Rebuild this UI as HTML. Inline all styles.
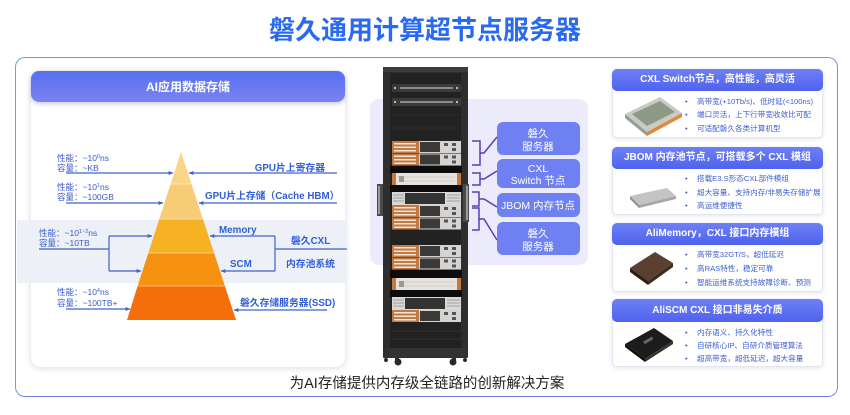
<!DOCTYPE html>
<html><head><meta charset="utf-8">
<style>
*{margin:0;padding:0;box-sizing:border-box}
body{width:850px;height:415px;background:#fff;position:relative;overflow:hidden;font-family:"Liberation Sans","Noto Sans CJK SC",sans-serif}
.a{position:absolute}
.title{left:0;top:12px;width:850px;text-align:center;font-size:26px;line-height:36px;font-weight:bold;color:#2a6af2;letter-spacing:0px}
.frame{left:15px;top:57px;width:823px;height:340px;border:1.5px solid #7d8ce8;border-radius:10px;border-bottom-color:#6f86e6;border-left-color:#6a9ae8}
.lp{left:31px;top:71px;width:314px;height:296px;background:#fff;border-radius:9px;box-shadow:0 1px 6px rgba(20,30,80,.18)}
.lph{left:31px;top:71px;width:314px;height:31px;border-radius:8px;background:linear-gradient(180deg,#5670f3,#7c82f2);box-shadow:0 2px 4px rgba(60,60,160,.25)}
.pbg{left:370px;top:99px;width:218px;height:166px;background:#ecebfc;border-radius:9px}
.card{left:612px;width:211px;background:#fff;border:1px solid #e3e6f0;border-radius:5px;box-shadow:0 1px 4px rgba(20,30,80,.12)}
.ch{left:612px;width:211px;height:22px;border-radius:5px;background:linear-gradient(180deg,#6e80f6,#4f62ee);color:#fff;font-weight:bold;font-size:10px;line-height:22px;text-align:center}
</style></head><body>
<div class="a title">磐久通用计算超节点服务器</div>
<div class="a frame"></div>
<div class="a lp"></div>
<div class="a lph"></div>
<div class="a pbg"></div>

<div class="a card" style="top:69px;height:69px"></div>
<div class="a ch" style="top:69px">CXL Switch节点，高性能，高灵活</div>
<div class="a card" style="top:147px;height:68px"></div>
<div class="a ch" style="top:147px">JBOM 内存池节点，可搭载多个 CXL 模组</div>
<div class="a card" style="top:223px;height:69px"></div>
<div class="a ch" style="top:223px">AliMemory，CXL 接口内存模组</div>
<div class="a card" style="top:299px;height:68px"></div>
<div class="a ch" style="top:299px;height:23px;line-height:23px">AliSCM CXL 接口非易失介质</div>

<svg class="a" style="left:0;top:0" width="850" height="415" viewBox="0 0 850 415" xmlns="http://www.w3.org/2000/svg" font-family="Liberation Sans, Noto Sans CJK SC, sans-serif">
<defs>
<marker id="ar" viewBox="0 0 6 6" refX="5.5" refY="3" markerWidth="4" markerHeight="4" orient="auto"><path d="M0,0.5 L6,3 L0,5.5 z" fill="#3f64c8"/></marker>
</defs>
<text x="188" y="91" text-anchor="middle" font-size="12" font-weight="bold" fill="#fff">AI应用数据存储</text>
<rect x="17" y="220" width="330" height="63" fill="#eef0f8"/>
<polygon points="181,152 170.6,184 191.5,184" fill="#f9d685"/>
<polygon points="170.6,184 191.5,184 202.9,219 159.3,219" fill="#f8cc76"/>
<polygon points="159.3,219 202.9,219 214.1,253 148.3,253" fill="#f7b223"/>
<polygon points="148.3,253 214.1,253 224.9,286 137.6,286" fill="#f6920f"/>
<polygon points="137.6,286 224.9,286 236,320 127,320" fill="#f46e0a"/>
<g stroke="#fff" stroke-opacity=".45" stroke-width="1">
<line x1="170.6" y1="184" x2="191.5" y2="184"/><line x1="159.3" y1="219" x2="202.9" y2="219"/>
<line x1="148.3" y1="253" x2="214.1" y2="253"/><line x1="137.6" y1="286" x2="224.9" y2="286"/>
</g>
<g stroke="#3f64c8" stroke-width="1.2" fill="none">
<path d="M66,173 H173" marker-end="url(#ar)"/>
<path d="M337,173 H189" marker-end="url(#ar)"/>
<path d="M66,203 H163" marker-end="url(#ar)"/>
<path d="M337,203 H199" marker-end="url(#ar)"/>
<path d="M109,236 H152" marker-end="url(#ar)"/>
<path d="M109,271 H141" marker-end="url(#ar)"/>
<path d="M109,236 V271 M39,249 H109"/>
<path d="M275,236 H210" marker-end="url(#ar)"/>
<path d="M275,271 H221" marker-end="url(#ar)"/>
<path d="M275,236 V271 M275,249 H347"/>
<path d="M66,309 H130" marker-end="url(#ar)"/>
<path d="M327,310 H234" marker-end="url(#ar)"/>
</g>
<g font-size="8.5" fill="#3a5cc8">
<text x="57" y="161">性能：~10<tspan font-size="5.5" dy="-3">0</tspan><tspan dy="3">ns</tspan></text>
<text x="57" y="171">容量：~KB</text>
<text x="57" y="190">性能：~10<tspan font-size="5.5" dy="-3">1</tspan><tspan dy="3">ns</tspan></text>
<text x="57" y="200">容量：~100GB</text>
<text x="39" y="236">性能：~10<tspan font-size="5.5" dy="-3">1~2</tspan><tspan dy="3">ns</tspan></text>
<text x="39" y="246">容量：~10TB</text>
<text x="57" y="295">性能：~10<tspan font-size="5.5" dy="-3">4</tspan><tspan dy="3">ns</tspan></text>
<text x="57" y="306">容量：~100TB+</text>
</g>
<g font-size="9.8" font-weight="bold" fill="#2f5ed6">
<text x="325" y="171" text-anchor="end">GPU片上寄存器</text>
<text x="205" y="199">GPU片上存储（Cache HBM）</text>
<text x="219" y="233">Memory</text>
<text x="291" y="244">磐久CXL</text>
<text x="230" y="267">SCM</text>
<text x="286" y="267">内存池系统</text>
<text x="240" y="306">磐久存储服务器(SSD)</text>
</g>

<rect x="377" y="184" width="6" height="32" fill="#4a4a4a"/>
<rect x="378" y="186" width="2" height="28" fill="#9a9a9a"/>
<rect x="383" y="67" width="85" height="291" fill="#2e2e2e" rx="1"/>
<rect x="390" y="73" width="71" height="276" fill="#222"/>
<rect x="383" y="67" width="85" height="5" fill="#3c3c3c"/>
<rect x="392" y="84" width="69" height="8" fill="#3a3a3a"/>
<rect x="400" y="87" width="53" height="2" fill="#8a8a8a"/>
<rect x="394" y="87" width="2" height="2" fill="#bbb"/><rect x="456" y="87" width="2" height="2" fill="#bbb"/>
<rect x="392" y="98" width="69" height="8" fill="#3a3a3a"/>
<rect x="400" y="101" width="53" height="2" fill="#8a8a8a"/>
<rect x="394" y="101" width="2" height="2" fill="#bbb"/><rect x="456" y="101" width="2" height="2" fill="#bbb"/>
<g stroke="#2c2c2c" stroke-width="1"><line x1="391" y1="115" x2="461" y2="115"/><line x1="391" y1="128" x2="461" y2="128"/></g>
<rect x="390" y="166" width="72" height="7" fill="#0d0d0d"/>
<rect x="390" y="185" width="72" height="7" fill="#0d0d0d"/>
<rect x="390" y="270" width="72" height="8" fill="#0d0d0d"/>
<rect x="390" y="290" width="72" height="7" fill="#0d0d0d"/>
<g id="srv">
<rect x="392" y="141" width="69" height="12" fill="#d9d1c6"/>
<rect x="392" y="141" width="27" height="12" fill="#c27a42"/>
<rect x="394" y="143" width="22" height="1.5" fill="#f0e6da"/><rect x="394" y="146.5" width="22" height="1.5" fill="#f0e6da"/><rect x="394" y="150" width="22" height="1.5" fill="#f0e6da"/>
<rect x="420" y="142" width="20" height="10" fill="#3a3a3a"/>
<rect x="441" y="141" width="20" height="12" fill="#d4d4d4"/>
<rect x="444" y="143" width="4" height="3" fill="#555"/><rect x="452" y="143" width="4" height="3" fill="#555"/><rect x="452" y="148" width="4" height="3" fill="#555"/>
</g>
<use href="#srv" y="12.5"/>
<use href="#srv" y="64"/><use href="#srv" y="76.5"/>
<use href="#srv" y="104"/><use href="#srv" y="116.5"/>
<use href="#srv" y="169"/>
<g id="sw">
<rect x="392" y="173" width="69" height="12" fill="#e6e3de"/>
<rect x="392" y="173" width="4" height="12" fill="#c27a42"/>
<rect x="457" y="173" width="4" height="12" fill="#c27a42"/>
<g stroke="#bdb9b2" stroke-width=".6"><line x1="398" y1="177" x2="455" y2="177"/><line x1="398" y1="181" x2="455" y2="181"/></g>
<rect x="399" y="176" width="5" height="6" fill="#999"/>
</g>
<use href="#sw" y="105"/>
<g id="jb">
<rect x="392" y="192" width="69" height="13" fill="#d8d8d8"/>
<rect x="405" y="193" width="40" height="11" fill="#333"/>
<g stroke="#888" stroke-width=".7"><line x1="393" y1="195" x2="404" y2="195"/><line x1="393" y1="198" x2="404" y2="198"/><line x1="393" y1="201" x2="404" y2="201"/><line x1="447" y1="195" x2="460" y2="195"/><line x1="447" y1="198" x2="460" y2="198"/><line x1="447" y1="201" x2="460" y2="201"/></g>
</g>
<use href="#jb" y="105"/>
<g stroke="#333" stroke-width="1"><line x1="391" y1="331" x2="461" y2="331"/><line x1="391" y1="339" x2="461" y2="339"/></g>
<rect x="385" y="348" width="81" height="9" fill="#333"/>
<rect x="395" y="356" width="4" height="4" fill="#333"/><rect x="452" y="356" width="4" height="4" fill="#333"/>
<circle cx="398" cy="362" r="3.5" fill="#2a2a2a"/><circle cx="453" cy="362" r="3.5" fill="#2a2a2a"/>
<circle cx="386" cy="360" r="2" fill="#2a2a2a"/><circle cx="465" cy="360" r="2" fill="#2a2a2a"/>
<rect x="463" y="184" width="6" height="38" fill="#4a4a4a"/>
<rect x="466" y="186" width="2" height="34" fill="#9a9a9a"/>

<g stroke="#5b3cb8" stroke-width="1.5" fill="none">
<path d="M472,141 H480 V165 H472 M480,153 H484 L497,137"/>
<path d="M472,173 H480 V185 H472 M480,179 H484 L497,171"/>
<path d="M472,192 H479 V206 H472 M479,199 H484 L497,207"/>
<path d="M472,208 H479 V230 H472 M479,219 H484 L497,240"/>
</g>
<g fill="#6f80f2">
<rect x="497" y="122" width="83" height="33" rx="6"/>
<rect x="497" y="159" width="83" height="29" rx="6"/>
<rect x="497" y="193" width="83" height="24" rx="6"/>
<rect x="497" y="222" width="83" height="33" rx="6"/>
</g>
<g fill="#fff" font-size="10.5" text-anchor="middle">
<text x="538" y="137">磐久</text><text x="538" y="150">服务器</text>
<text x="538" y="172">CXL</text><text x="538" y="184">Switch 节点</text>
<text x="538" y="209">JBOM 内存节点</text>
<text x="538" y="237">磐久</text><text x="538" y="250">服务器</text>
</g>

<polygon points="625,114 660,97 682,113 647,132" fill="#c8cbc6"/>
<polygon points="632,114 660,101 675,112 647,126" fill="#8d9a86"/>
<polygon points="625,114 647,132 647,136 625,118" fill="#9a9a98"/>
<polygon points="647,132 682,113 682,117 647,136" fill="#e0883c"/>
<polygon points="630,196 667,188 676,196 639,205" fill="#c4c4c4"/>
<polygon points="630,196 639,205 639,208 630,199" fill="#8f8f8f"/>
<polygon points="639,205 676,196 676,199 639,208" fill="#a6a6a6"/>
<polygon points="630,268 655,252 673,263 648,281" fill="#5a4030"/>
<polygon points="630,268 648,281 648,285 630,272" fill="#2a1d15"/>
<polygon points="648,281 673,263 673,267 648,285" fill="#3a2a1f"/>
<polygon points="625,344 654,328 673,341 645,359" fill="#1c1c1c"/>
<polygon points="625,344 645,359 645,362 625,347" fill="#0a0a0a"/>
<polygon points="645,359 673,341 673,344 645,362" fill="#333"/>
<rect x="643" y="339" width="10" height="3" fill="#666" transform="rotate(-30 648 340)"/>

<g font-size="7.6" fill="#3c5fcf">
<text x="685" y="104">•</text><text x="697" y="104">高带宽(+10Tb/s)、低时延(&lt;100ns)</text>
<text x="685" y="117">•</text><text x="697" y="117">端口灵活，上下行带宽收敛比可配</text>
<text x="685" y="131">•</text><text x="697" y="131">可适配磐久各类计算机型</text>
<text x="685" y="181">•</text><text x="697" y="181">搭载E3.S形态CXL部件模组</text>
<text x="685" y="195">•</text><text x="697" y="195">超大容量、支持内存/非易失存储扩展</text>
<text x="685" y="208">•</text><text x="697" y="208">高运维便捷性</text>
<text x="685" y="257">•</text><text x="697" y="257">高带宽32GT/S，超低延迟</text>
<text x="685" y="271">•</text><text x="697" y="271">高RAS特性，稳定可靠</text>
<text x="685" y="285">•</text><text x="697" y="285">智能运维系统支持故障诊断、预测</text>
<text x="685" y="335">•</text><text x="697" y="335">内存语义、持久化特性</text>
<text x="685" y="348">•</text><text x="697" y="348">自研核心IP、自研介质管理算法</text>
<text x="685" y="361">•</text><text x="697" y="361">超高带宽，超低延迟，超大容量</text>
</g>

<text x="427" y="388" text-anchor="middle" font-size="14.5" fill="#222">为AI存储提供内存级全链路的创新解决方案</text>
</svg>
</body></html>
